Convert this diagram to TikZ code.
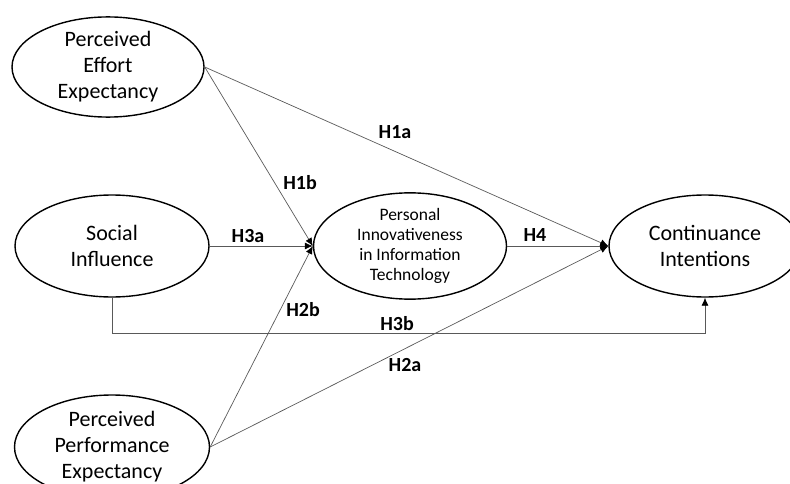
\documentclass[tikz,border=0pt]{standalone}
\usepackage{fontspec}
\setmainfont{Carlito}
\usetikzlibrary{arrows.meta,shapes.geometric}

\begin{document}
\begin{tikzpicture}[x=1pt, y=-1pt,
	construct/.style={ellipse, draw, line width=1.4pt, inner sep=0pt, align=center, font=\fontsize{22}{26}\selectfont},
	link/.style={draw=black!65, line width=0.7pt},
	hyp/.style={font=\fontsize{20}{22}\selectfont\bfseries},
	>={Latex[length=8pt, width=7pt, color=black]}]
	\useasboundingbox (0,0) rectangle (790,484);
	\clip (0,0) rectangle (790,484);
	\node[construct, minimum width=192pt, minimum height=100pt] (pee) at (108,67) {Perceived\\Effort\\Expectancy};
	\node[construct, minimum width=194pt, minimum height=102pt] (si) at (112,246) {Social\\Influence};
	\node[construct, minimum width=195pt, minimum height=104pt] (ppe) at (112,447) {Perceived\\Performance\\Expectancy};
	\node[construct, minimum width=193pt, minimum height=100pt, font=\fontsize{17.5}{20}\selectfont] (piit) at (410,246) {Personal\\Innovativeness\\in Information\\Technology};
	\node[construct, minimum width=192pt, minimum height=102pt] (ci) at (705,246) {Continuance\\Intentions};
	\coordinate (low) at (0,333);
	\draw[link,->] (pee.east) -- (ci.west);
	\draw[link,->] (pee.east) -- (piit.west);
	\draw[link,->] (si.east) -- (piit.west);
	\draw[link,->] (ppe.east) -- (piit.west);
	\draw[link,->] (ppe.east) -- (ci.west);
	\draw[link,->] (piit.east) -- (ci.west);
	\draw[link,->] (si.south) |- (low -| ci.south) -- (ci.south);
	\node[hyp] (h1a) at (395,132) {H1a};
	\node[hyp] (h1b) at (300,183) {H1b};
	\node[hyp] (h3a) at (248,236) {H3a};
	\node[hyp] (h4) at (535,235) {H4};
	\node[hyp] (h2b) at (303,310) {H2b};
	\node[hyp] (h3b) at (397,324) {H3b};
	\node[hyp] (h2a) at (405,365) {H2a};
\end{tikzpicture}
\end{document}
